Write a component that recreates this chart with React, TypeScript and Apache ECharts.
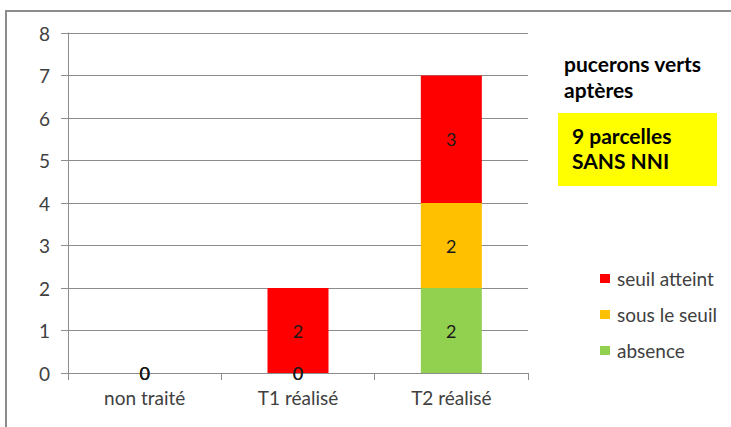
import React, { useEffect, useRef } from "react";
import * as echarts from "echarts";

const categories = ["non traité", "T1 réalisé", "T2 réalisé"];
const absence = [0, 0, 2];
const sousLeSeuil = [0, 0, 2];
const seuilAtteint = [0, 2, 3];
const yTicks = [0, 1, 2, 3, 4, 5, 6, 7, 8];
const titleLines = ["pucerons verts", "aptères"];
const boxLines = ["9 parcelles", "SANS NNI"];

const FONT = "Lato, 'Open Sans', sans-serif";

export default function App() {
  const ref = useRef<HTMLDivElement>(null);
  useEffect(() => {
    if (!ref.current) return;
    const chart = echarts.init(ref.current, undefined, { renderer: "svg" });
    const label = {
      show: true,
      position: "inside",
      color: "#1a1a1a",
      fontSize: 18,
      fontFamily: FONT,
    };
    chart.setOption({
      animation: false,
      textStyle: { fontFamily: FONT },
      grid: { left: 68, right: 203, top: 33, bottom: 54, containLabel: false },
      xAxis: {
        type: "category",
        data: categories,
        axisLine: { show: true, lineStyle: { color: "#8c8c8c", width: 1 } },
        axisTick: { show: true, length: 7, lineStyle: { color: "#8c8c8c" } },
        axisLabel: { color: "#404040", fontSize: 19, margin: 15, fontFamily: FONT },
        splitLine: { show: false },
      },
      yAxis: {
        type: "value",
        min: yTicks[0],
        max: yTicks[yTicks.length - 1],
        interval: 1,
        axisLine: { show: true, lineStyle: { color: "#8c8c8c", width: 1 } },
        axisTick: { show: true, length: 7, lineStyle: { color: "#8c8c8c" } },
        axisLabel: { color: "#404040", fontSize: 19, margin: 18, fontFamily: FONT },
        splitLine: { show: true, lineStyle: { color: "#8c8c8c", width: 1 } },
      },
      legend: {
        orient: "vertical",
        left: 595,
        top: 264,
        itemWidth: 10,
        itemHeight: 9,
        itemGap: 17,
        icon: "rect",
        data: ["seuil atteint", "sous le seuil", "absence"],
        textStyle: {
          color: "#404040",
          fontSize: 19,
          lineHeight: 19,
          fontFamily: FONT,
          padding: [0, 0, 0, 2],
        },
      },
      series: [
        { name: "absence", type: "bar", stack: "s", data: absence, barWidth: 61, itemStyle: { color: "#92D050" }, label },
        { name: "sous le seuil", type: "bar", stack: "s", data: sousLeSeuil, barWidth: 61, itemStyle: { color: "#FFC000" }, label },
        { name: "seuil atteint", type: "bar", stack: "s", data: seuilAtteint, barWidth: 61, itemStyle: { color: "#FF0000" }, label },
      ],
      graphic: [
        {
          type: "polyline",
          shape: { points: [[6, 427], [6, 11], [731, 11]] },
          style: { stroke: "#8c8c8c", lineWidth: 2, fill: "none" },
          silent: true,
        },
        {
          type: "text",
          left: 564,
          top: 50,
          style: {
            text: titleLines.join("\n"),
            font: `bold 21px ${FONT}`,
            lineHeight: 26,
            fill: "#000",
          },
        },
        {
          type: "rect",
          shape: { x: 558, y: 113, width: 159, height: 73 },
          style: { fill: "#FFFF00" },
        },
        {
          type: "text",
          left: 572,
          top: 123,
          style: {
            text: boxLines.join("\n"),
            font: `bold 21px ${FONT}`,
            lineHeight: 25,
            fill: "#000",
          },
        },
      ],
    });
    return () => chart.dispose();
  }, []);
  return (
    <div
      ref={ref}
      style={{ position: "absolute", left: 0, top: 0, width: 731, height: 427, background: "#fff" }}
    />
  );
}
